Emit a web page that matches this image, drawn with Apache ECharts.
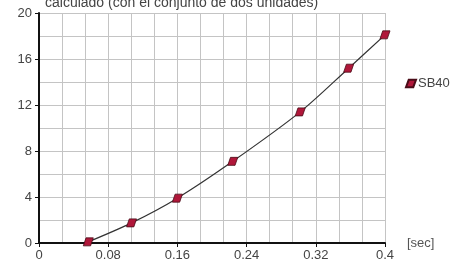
<!DOCTYPE html>
<html>
<head>
<meta charset="utf-8">
<script src="https://cdn.jsdelivr.net/npm/echarts@6/dist/echarts.min.js"></script>
<style>
html, body { margin: 0; padding: 0; background: #fff; }
#chart { width: 453px; height: 266px; }
</style>
</head>
<body>
<div id="chart"></div>
<script>
var seriesName = 'SB40';
var timeSec = [0.057, 0.107, 0.16, 0.224, 0.302, 0.358, 0.4];
var values = [0.1, 1.75, 3.9, 7.1, 11.4, 15.2, 18.1];
var titleText = 'calculado (con el conjunto de dos unidades)';
var xUnit = '[sec]';

var marker = 'path://M3,0 L11,0 L8,8 L0,8 Z';
var font = 'Liberation Sans, Arial, sans-serif';

var chart = echarts.init(document.getElementById('chart'));
chart.setOption({
    animation: false,
    grid: { left: 39, right: 68, top: 13, bottom: 23 },
    graphic: [{
        type: 'text', left: 45, top: -4,
        style: { text: titleText, fontSize: 14, fontFamily: font, fill: '#444' }
    }],
    legend: {
        data: [seriesName],
        left: 400, top: 72,
        itemWidth: 10, itemHeight: 8, itemGap: 0,
        icon: marker,
        textStyle: { fontSize: 13, fontFamily: font, color: '#444', padding: [0, 0, 0, -3] }
    },
    xAxis: {
        type: 'value', min: 0, max: 0.4, interval: 0.08,
        name: xUnit, nameLocation: 'end', nameGap: 22,
        nameTextStyle: { fontSize: 13, fontFamily: font, color: '#555', verticalAlign: 'middle', padding: [0, 0, 2, 0] },
        axisLine: { lineStyle: { color: '#111', width: 2 } },
        axisTick: { show: true, length: 4, lineStyle: { color: '#111' } },
        axisLabel: { fontSize: 13, fontFamily: font, color: '#444', margin: 6 },
        splitLine: { show: true, lineStyle: { color: '#c4c4c4' } },
        minorTick: { show: false, splitNumber: 3 },
        minorSplitLine: { show: true, lineStyle: { color: '#c4c4c4' } }
    },
    yAxis: {
        type: 'value', min: 0, max: 20, interval: 4,
        axisLine: { show: true, lineStyle: { color: '#111', width: 2 } },
        axisTick: { show: true, length: 4, lineStyle: { color: '#111' } },
        axisLabel: { fontSize: 13, fontFamily: font, color: '#444', margin: 7 },
        splitLine: { show: true, lineStyle: { color: '#c4c4c4' } },
        minorTick: { show: false, splitNumber: 2 },
        minorSplitLine: { show: true, lineStyle: { color: '#c4c4c4' } }
    },
    series: [{
        name: seriesName,
        type: 'line',
        smooth: 0.3,
        data: timeSec.map(function (t, i) { return [t, values[i]]; }),
        symbol: marker,
        symbolSize: [10, 8],
        itemStyle: { color: '#b0173a', borderColor: '#4a0c18', borderWidth: 0.8 },
        lineStyle: { color: '#333', width: 1.2 }
    }]
});
</script>
</body>
</html>
